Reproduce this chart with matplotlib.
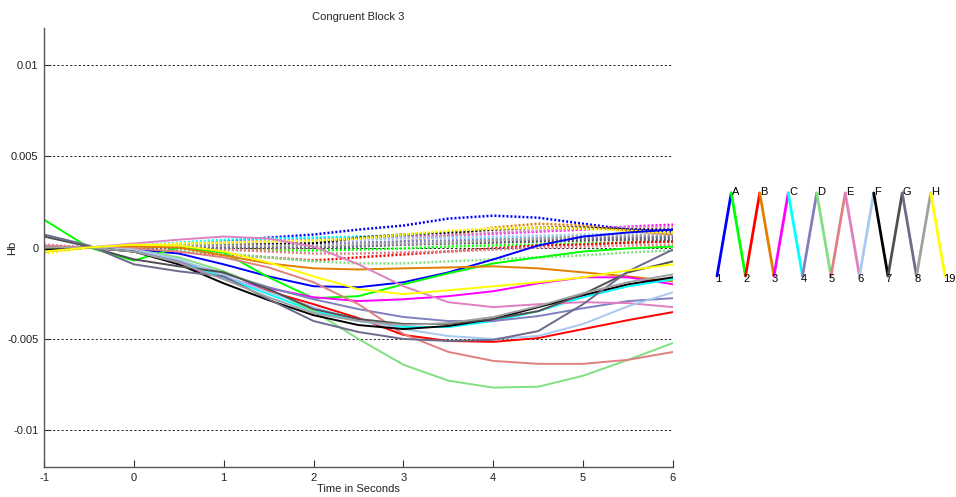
import matplotlib
matplotlib.use("Agg")
import matplotlib.pyplot as plt
import numpy as np

plt.rcParams['font.family'] = ['Liberation Sans', 'DejaVu Sans']

# time axis (seconds)
time = [-1, -0.5, 0, 0.5, 1, 1.5, 2, 2.5, 3, 3.5, 4, 4.5, 5, 5.5, 6]

# channel names (source-detector pairs) in display order
channels = ["1-A", "A-2", "2-B", "B-3", "3-C", "C-4", "4-D", "D-5",
            "5-E", "E-6", "6-F", "F-7", "7-G", "G-8", "8-H", "H-19"]

# solid curves (values in units of 1e-3)
solid_1A  = [0.05, 0, -0.11, -0.33, -0.92, -1.58, -2.12, -2.17, -1.90, -1.36, -0.65, 0.11, 0.60, 0.82, 0.98]
solid_A2  = [1.52, 0, -0.71, 0, -0.27, -1.63, -2.77, -2.66, -2.01, -1.41, -0.87, -0.54, -0.22, -0.05, 0.05]
solid_2B  = [-0.11, 0, -0.22, -0.76, -1.58, -2.39, -3.10, -3.86, -4.78, -5.11, -5.16, -4.95, -4.46, -3.97, -3.53]
solid_B3  = [-0.22, 0, 0.05, 0, -0.43, -0.87, -1.14, -1.20, -1.14, -1.09, -1.03, -1.14, -1.36, -1.58, -1.85]
solid_3C  = [-0.11, 0, -0.11, -0.92, -1.68, -2.23, -2.72, -2.93, -2.83, -2.66, -2.39, -1.96, -1.63, -1.63, -2.01]
solid_C4  = [-0.11, 0, -0.22, -0.76, -1.63, -2.55, -3.48, -4.02, -4.35, -4.35, -4.02, -3.48, -2.72, -2.12, -1.74]
solid_4D  = [0, 0, -0.22, -0.76, -1.41, -2.17, -2.83, -3.37, -3.80, -4.02, -4.02, -3.75, -3.32, -2.93, -2.77]
solid_D5  = [0, 0, -0.11, -0.54, -1.30, -2.28, -3.48, -5.00, -6.41, -7.28, -7.66, -7.61, -7.01, -6.14, -5.22]
solid_5E  = [0.11, 0, -0.05, -0.22, -0.54, -1.09, -1.90, -3.10, -4.73, -5.71, -6.20, -6.36, -6.36, -6.14, -5.71]
solid_E6  = [-0.22, 0, 0.22, 0.43, 0.60, 0.49, 0.05, -0.92, -2.12, -2.99, -3.26, -3.10, -2.99, -3.04, -3.26]
solid_6F  = [-0.11, 0, -0.11, -0.65, -1.52, -2.45, -3.26, -3.97, -4.46, -4.84, -5.00, -4.84, -4.18, -3.21, -2.45]
solid_F7  = [-0.11, 0, -0.22, -0.92, -1.96, -2.88, -3.70, -4.24, -4.46, -4.29, -3.91, -3.26, -2.61, -2.01, -1.63]
solid_7G  = [0.60, 0.05, -0.65, -1.03, -1.36, -2.28, -3.37, -3.91, -4.18, -4.18, -3.91, -3.48, -2.55, -1.36, -0.76]
solid_G8  = [0.71, 0.11, -0.92, -1.30, -1.58, -2.83, -4.02, -4.62, -5.00, -5.11, -5.05, -4.57, -3.10, -1.30, -0.11]
solid_8H  = [0, 0, -0.22, -0.82, -1.74, -2.72, -3.59, -4.02, -4.24, -4.13, -3.80, -3.21, -2.50, -1.90, -1.47]
solid_H19 = [-0.22, 0, 0.16, 0.11, -0.22, -0.82, -1.58, -2.28, -2.55, -2.34, -2.12, -1.90, -1.63, -1.25, -0.92]

# dotted curves (values in units of 1e-3)
dot_1A  = [0.11, 0, 0.05, 0.16, 0.33, 0.54, 0.71, 0.98, 1.20, 1.58, 1.74, 1.63, 1.30, 0.98, 0.87]
dot_A2  = [-0.22, 0, 0, -0.05, -0.11, -0.16, -0.16, -0.11, -0.05, 0.05, 0.11, 0.16, 0.22, 0.27, 0.33]
dot_2B  = [0.05, 0, -0.11, -0.22, -0.38, -0.54, -0.71, -0.54, -0.38, -0.22, -0.05, 0.11, 0.16, 0.27, 0.33]
dot_B3  = [-0.11, 0, 0, 0, -0.05, -0.05, 0, 0.11, 0.33, 0.65, 1.09, 1.30, 1.20, 0.92, 0.71]
dot_3C  = [-0.05, 0, 0.05, 0.16, 0.27, 0.38, 0.49, 0.54, 0.60, 0.65, 0.76, 0.87, 0.98, 1.14, 1.25]
dot_C4  = [0.11, 0, 0.11, 0.27, 0.43, 0.49, 0.54, 0.60, 0.60, 0.54, 0.54, 0.60, 0.60, 0.60, 0.60]
dot_4D  = [-0.11, 0, 0.05, 0.11, 0.16, 0.22, 0.22, 0.27, 0.33, 0.38, 0.43, 0.49, 0.54, 0.60, 0.60]
dot_D5  = [-0.05, 0, -0.05, -0.16, -0.33, -0.54, -0.76, -0.87, -0.87, -0.76, -0.65, -0.54, -0.43, -0.27, -0.16]
dot_5E  = [0, 0, 0, -0.05, -0.11, -0.22, -0.33, -0.33, -0.27, -0.22, -0.11, 0, 0.05, 0.11, 0.16]
dot_E6  = [0.16, 0, 0, 0.11, 0.22, 0.27, 0.33, 0.43, 0.54, 0.65, 0.82, 0.92, 1.03, 1.09, 1.14]
dot_6F  = [0.05, 0, 0.05, 0.16, 0.27, 0.33, 0.38, 0.43, 0.49, 0.54, 0.60, 0.65, 0.71, 0.76, 0.76]
dot_F7  = [0, 0, 0, 0.05, 0.11, 0.16, 0.22, 0.54, 0.71, 0.82, 0.98, 1.09, 1.09, 0.98, 0.98]
dot_7G  = [-0.16, 0, 0, 0.05, 0.05, 0.05, 0.05, 0.11, 0.16, 0.22, 0.27, 0.33, 0.38, 0.43, 0.43]
dot_G8  = [-0.11, 0, 0, 0, 0, 0, 0, 0.05, 0.16, 0.27, 0.38, 0.43, 0.49, 0.49, 0.54]
dot_8H  = [-0.05, 0, 0.05, 0.11, 0.11, 0.11, 0.11, 0.16, 0.22, 0.27, 0.38, 0.49, 0.60, 0.65, 0.71]
dot_H19 = [-0.33, 0, 0.11, 0.22, 0.27, 0.33, 0.38, 0.49, 0.71, 0.92, 1.03, 1.09, 1.03, 0.92, 0.82]

solid_series = [solid_1A, solid_A2, solid_2B, solid_B3, solid_3C, solid_C4, solid_4D, solid_D5,
                solid_5E, solid_E6, solid_6F, solid_F7, solid_7G, solid_G8, solid_8H, solid_H19]
dotted_series = [dot_1A, dot_A2, dot_2B, dot_B3, dot_3C, dot_C4, dot_4D, dot_D5,
                 dot_5E, dot_E6, dot_6F, dot_F7, dot_7G, dot_G8, dot_8H, dot_H19]

colors = ["#0000ff", "#00ff00", "#ff0000", "#e08000", "#ff00ff", "#00ffff", "#8080c0", "#80e080",
          "#e08080", "#e080c0", "#a8c8f0", "#000000", "#505050", "#6b6b8c", "#a0a0a0", "#ffff00"]

# probe layout labels (bottom detectors / top sources)
bottom_labels = ["1", "2", "3", "4", "5", "6", "7", "8", "19"]
top_labels = ["A", "B", "C", "D", "E", "F", "G", "H"]

ytick_vals = [0.01, 0.005, 0, -0.005, -0.01]
ytick_text = ["0.01", "0.005", "0", "-0.005", "-0.01"]
xtick_vals = [-1, 0, 1, 2, 3, 4, 5, 6]

W, H = 956, 497
fig = plt.figure(figsize=(W / 100, H / 100), dpi=100)
ax = fig.add_axes([44 / W, 1 - 467 / H, (673 - 44) / W, (467 - 28) / H])

t = np.array(time)
for ys, c in zip(dotted_series, colors):
    ax.plot(t, np.array(ys) * 1e-3, color=c, lw=1.8, linestyle=(0, (0.8, 0.8)),
            dash_capstyle='butt')
for ys, c in zip(solid_series, colors):
    ax.plot(t, np.array(ys) * 1e-3, color=c, lw=1.4, solid_joinstyle='round')

ax.set_xlim(-1, 6)
ax.set_ylim(-0.012, 0.012)
ax.set_xticks(xtick_vals)
ax.set_xticklabels([str(v) for v in xtick_vals])
ax.set_yticks(ytick_vals)
ax.set_yticklabels(ytick_text)
for yv in ytick_vals:
    ax.axhline(yv, color="#222222", lw=0.7, linestyle=(0, (2.2, 2.2)), zorder=0.5)

for s in ["top", "right"]:
    ax.spines[s].set_visible(False)
for s in ["left", "bottom"]:
    ax.spines[s].set_color("#555555")
    ax.spines[s].set_linewidth(1.0)
ax.tick_params(direction="in", length=5, width=0.8, color="#333333",
               labelsize=8, labelcolor="#222222", pad=4)
ax.set_title("Congruent Block 3", fontsize=8, color="#222222", pad=6)
ax.set_xlabel("Time in Seconds", fontsize=8, color="#222222", labelpad=1)
ax.set_ylabel("Hb", fontsize=8, color="#222222")
ax.yaxis.set_label_coords(-0.043, 0.5)

# probe layout diagram
lg = fig.add_axes([717 / W, 1 - 276 / H, (945 - 717) / W, (276 - 193) / H])
lg.set_xlim(0, 16)
lg.set_ylim(0, 1)
lg.axis("off")
for k, c in enumerate(colors):
    y0 = 0 if k % 2 == 0 else 1
    lg.plot([k, k + 1], [y0, 1 - y0], color=c, lw=2.0, clip_on=False,
            solid_capstyle='round')
for i, lab in enumerate(bottom_labels):
    lg.text(2 * i - 0.15, -0.04, lab, fontsize=8, color="black", ha="left", va="center")
for i, lab in enumerate(top_labels):
    lg.text(2 * i + 1 + 0.05, 1.01, lab, fontsize=8, color="black", ha="left", va="center")

fig.savefig("out.png", dpi=100)
